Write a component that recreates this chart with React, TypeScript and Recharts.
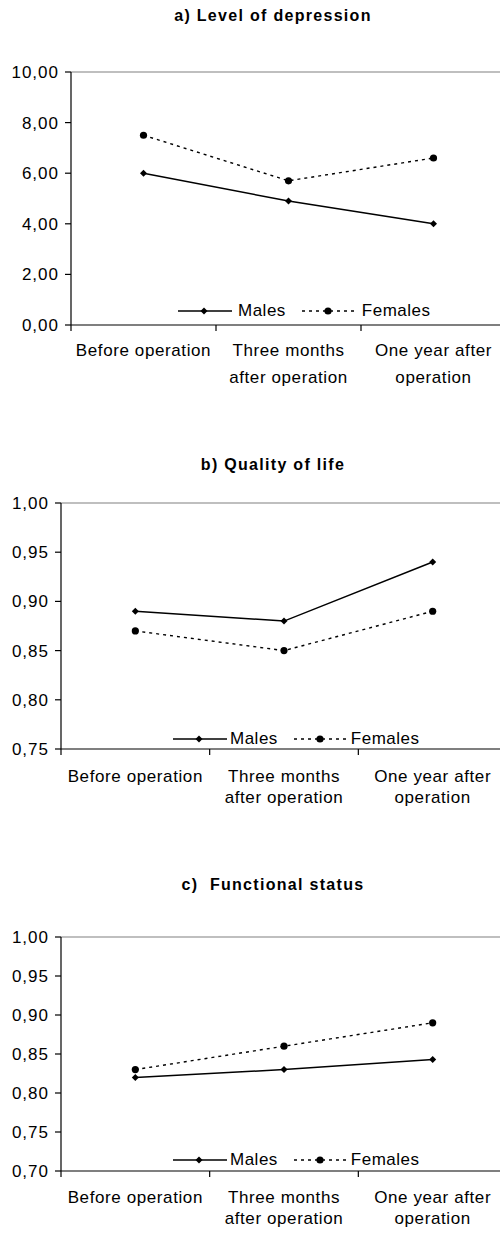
import { Legend, Line, LineChart, ReferenceLine, XAxis, YAxis } from 'recharts';

const categories = ['Before operation', 'Three months\nafter operation', 'One year after\noperation'];
const seriesNames = ['Males', 'Females'];

// a) Level of depression
const depressionMales = [6.0, 4.9, 4.0];
const depressionFemales = [7.5, 5.7, 6.6];
const depressionTicks = [0, 2, 4, 6, 8, 10];

// b) Quality of life
const qualityMales = [0.89, 0.88, 0.94];
const qualityFemales = [0.87, 0.85, 0.89];
const qualityTicks = [0.75, 0.8, 0.85, 0.9, 0.95, 1.0];

// c) Functional status
const functionalMales = [0.82, 0.83, 0.843];
const functionalFemales = [0.83, 0.86, 0.89];
const functionalTicks = [0.7, 0.75, 0.8, 0.85, 0.9, 0.95, 1.0];

const FONT = '"Liberation Sans", Arial, sans-serif';
const FEMALE_DASH = '3 4';

const fmt = (v: number) => v.toFixed(2).replace('.', ',');

function Diamond(props: any) {
  const { cx, cy, index } = props;
  if (cx == null || cy == null) return null;
  const r = 3.5;
  return (
    <polygon
      key={`d-${index}`}
      points={`${cx},${cy - r} ${cx + r},${cy} ${cx},${cy + r} ${cx - r},${cy}`}
      fill="#000"
    />
  );
}

function Dot(props: any) {
  const { cx, cy, index } = props;
  if (cx == null || cy == null) return null;
  return <circle key={`c-${index}`} cx={cx} cy={cy} r={3.6} fill="#000" />;
}

function LegendIcon({ female }: { female: boolean }) {
  return (
    <svg width={54} height={14} style={{ display: 'block' }}>
      <line
        x1={0}
        y1={7}
        x2={54}
        y2={7}
        stroke="#000"
        strokeWidth={female ? 1.4 : 1.5}
        strokeDasharray={female ? FEMALE_DASH : undefined}
      />
      {female ? (
        <circle cx={26} cy={7} r={3.6} fill="#000" />
      ) : (
        <polygon points="26,3.5 29.5,7 26,10.5 22.5,7" fill="#000" />
      )}
    </svg>
  );
}

function LegendContent({ payload, textGap }: any) {
  // keep the series order (Males, Females) rather than alphabetical
  const items = [...(payload || [])].sort(
    (a: any, b: any) => seriesNames.indexOf(a.value) - seriesNames.indexOf(b.value)
  );
  return (
    <div style={{ display: 'flex', alignItems: 'center', fontFamily: FONT, fontSize: 17, color: '#000' }}>
      {items.map((entry: any, i: number) => (
        <div key={entry.value} style={{ display: 'flex', alignItems: 'center', marginLeft: i === 0 ? 0 : 16 }}>
          <LegendIcon female={entry.value === 'Females'} />
          <span style={{ marginLeft: textGap, letterSpacing: 0.5, lineHeight: '20px' }}>{entry.value}</span>
        </div>
      ))}
    </div>
  );
}

function CategoryTick(props: any) {
  const { x, y, payload, index, half, firstGap, lineGap } = props;
  const lines = String(payload.value).split('\n');
  return (
    <g>
      <line x1={x - half} y1={y} x2={x - half} y2={y + 6} stroke="#000" strokeWidth={1.2} />
      {index === categories.length - 1 && (
        <line x1={x + half} y1={y} x2={x + half} y2={y + 6} stroke="#000" strokeWidth={1.2} />
      )}
      {lines.map((t, i) => (
        <text
          key={i}
          x={x}
          y={y + firstGap + i * lineGap}
          dy="0.36em"
          textAnchor="middle"
          fill="#000"
          fontSize={17}
          fontFamily={FONT}
          letterSpacing={0.6}
        >
          {t}
        </text>
      ))}
    </g>
  );
}

interface PanelProps {
  title: string;
  males: number[];
  females: number[];
  ticks: number[];
  top: number;
  titleY: number;
  plotLeft: number;
  plotRight: number;
  plotTop: number;
  plotBottom: number;
  firstGap: number;
  lineGap: number;
  legendX: number;
  legendY: number;
  textGap: number;
}

function Panel(p: PanelProps) {
  const data = categories.map((c, i) => ({ category: c, males: p.males[i], females: p.females[i] }));
  const width = 520;
  const axisH = 60;
  const localTop = p.plotTop - p.top;
  const localBottom = p.plotBottom - p.top;
  const height = localBottom + axisH;
  const half = (p.plotRight - p.plotLeft) / 6;
  const min = p.ticks[0];
  const max = p.ticks[p.ticks.length - 1];

  return (
    <>
      <div
        style={{
          position: 'absolute',
          left: 0,
          width: 546,
          top: p.titleY - 9,
          lineHeight: '20px',
          textAlign: 'center',
          whiteSpace: 'pre',
          fontFamily: FONT,
          fontWeight: 'bold',
          fontSize: 16,
          letterSpacing: 1.3,
          color: '#000',
        }}
      >
        {p.title}
      </div>
      <div style={{ position: 'absolute', left: 0, top: p.top, width, height }}>
        <LineChart
          width={width}
          height={height}
          data={data}
          margin={{ top: localTop, left: 0, right: width - p.plotRight, bottom: 0 }}
        >
          <ReferenceLine y={max} stroke="#808080" strokeWidth={1.2} />
          <XAxis
            dataKey="category"
            height={axisH}
            interval={0}
            padding={{ left: half, right: half }}
            axisLine={{ stroke: '#000', strokeWidth: 1.2 }}
            tickLine={false}
            tickSize={0}
            tickMargin={0}
            tick={(tp: any) => (
              <CategoryTick {...tp} half={half} firstGap={p.firstGap} lineGap={p.lineGap} />
            )}
          />
          <YAxis
            width={p.plotLeft}
            domain={[min, max]}
            ticks={p.ticks}
            interval={0}
            tickFormatter={fmt}
            tickSize={6}
            tickMargin={6}
            axisLine={{ stroke: '#000', strokeWidth: 1.2 }}
            tickLine={{ stroke: '#000', strokeWidth: 1.2 }}
            tick={{ fill: '#000', fontSize: 17, fontFamily: FONT, letterSpacing: 1 }}
          />
          <Legend
            content={(lp: any) => <LegendContent {...lp} textGap={p.textGap} />}
            wrapperStyle={{ position: 'absolute', left: p.legendX, top: p.legendY - p.top - 10, width: 'auto' }}
          />
          <Line
            dataKey="males"
            name={seriesNames[0]}
            stroke="#000"
            strokeWidth={1.5}
            dot={Diamond}
            activeDot={false}
            isAnimationActive={false}
          />
          <Line
            dataKey="females"
            name={seriesNames[1]}
            stroke="#000"
            strokeWidth={1.4}
            strokeDasharray={FEMALE_DASH}
            dot={Dot}
            activeDot={false}
            isAnimationActive={false}
          />
        </LineChart>
      </div>
    </>
  );
}

export default function App() {
  return (
    <div
      style={{
        position: 'absolute',
        left: 0,
        top: 0,
        width: 500,
        height: 1249,
        overflow: 'hidden',
        background: '#fff',
      }}
    >
      <Panel
        title="a) Level of depression"
        males={depressionMales}
        females={depressionFemales}
        ticks={depressionTicks}
        top={0}
        titleY={15}
        plotLeft={71}
        plotRight={506}
        plotTop={72}
        plotBottom={345}
        firstGap={25}
        lineGap={26.5}
        legendX={178}
        legendY={311}
        textGap={6}
      />
      <Panel
        title="b) Quality of life"
        males={qualityMales}
        females={qualityFemales}
        ticks={qualityTicks}
        top={420}
        titleY={464}
        plotLeft={61}
        plotRight={507}
        plotTop={503}
        plotBottom={769}
        firstGap={26.5}
        lineGap={21.5}
        legendX={173}
        legendY={739}
        textGap={3}
      />
      <Panel
        title="c)  Functional status"
        males={functionalMales}
        females={functionalFemales}
        ticks={functionalTicks}
        top={830}
        titleY={884}
        plotLeft={61}
        plotRight={507}
        plotTop={937}
        plotBottom={1191}
        firstGap={25.7}
        lineGap={21.3}
        legendX={173}
        legendY={1160}
        textGap={3}
      />
    </div>
  );
}
